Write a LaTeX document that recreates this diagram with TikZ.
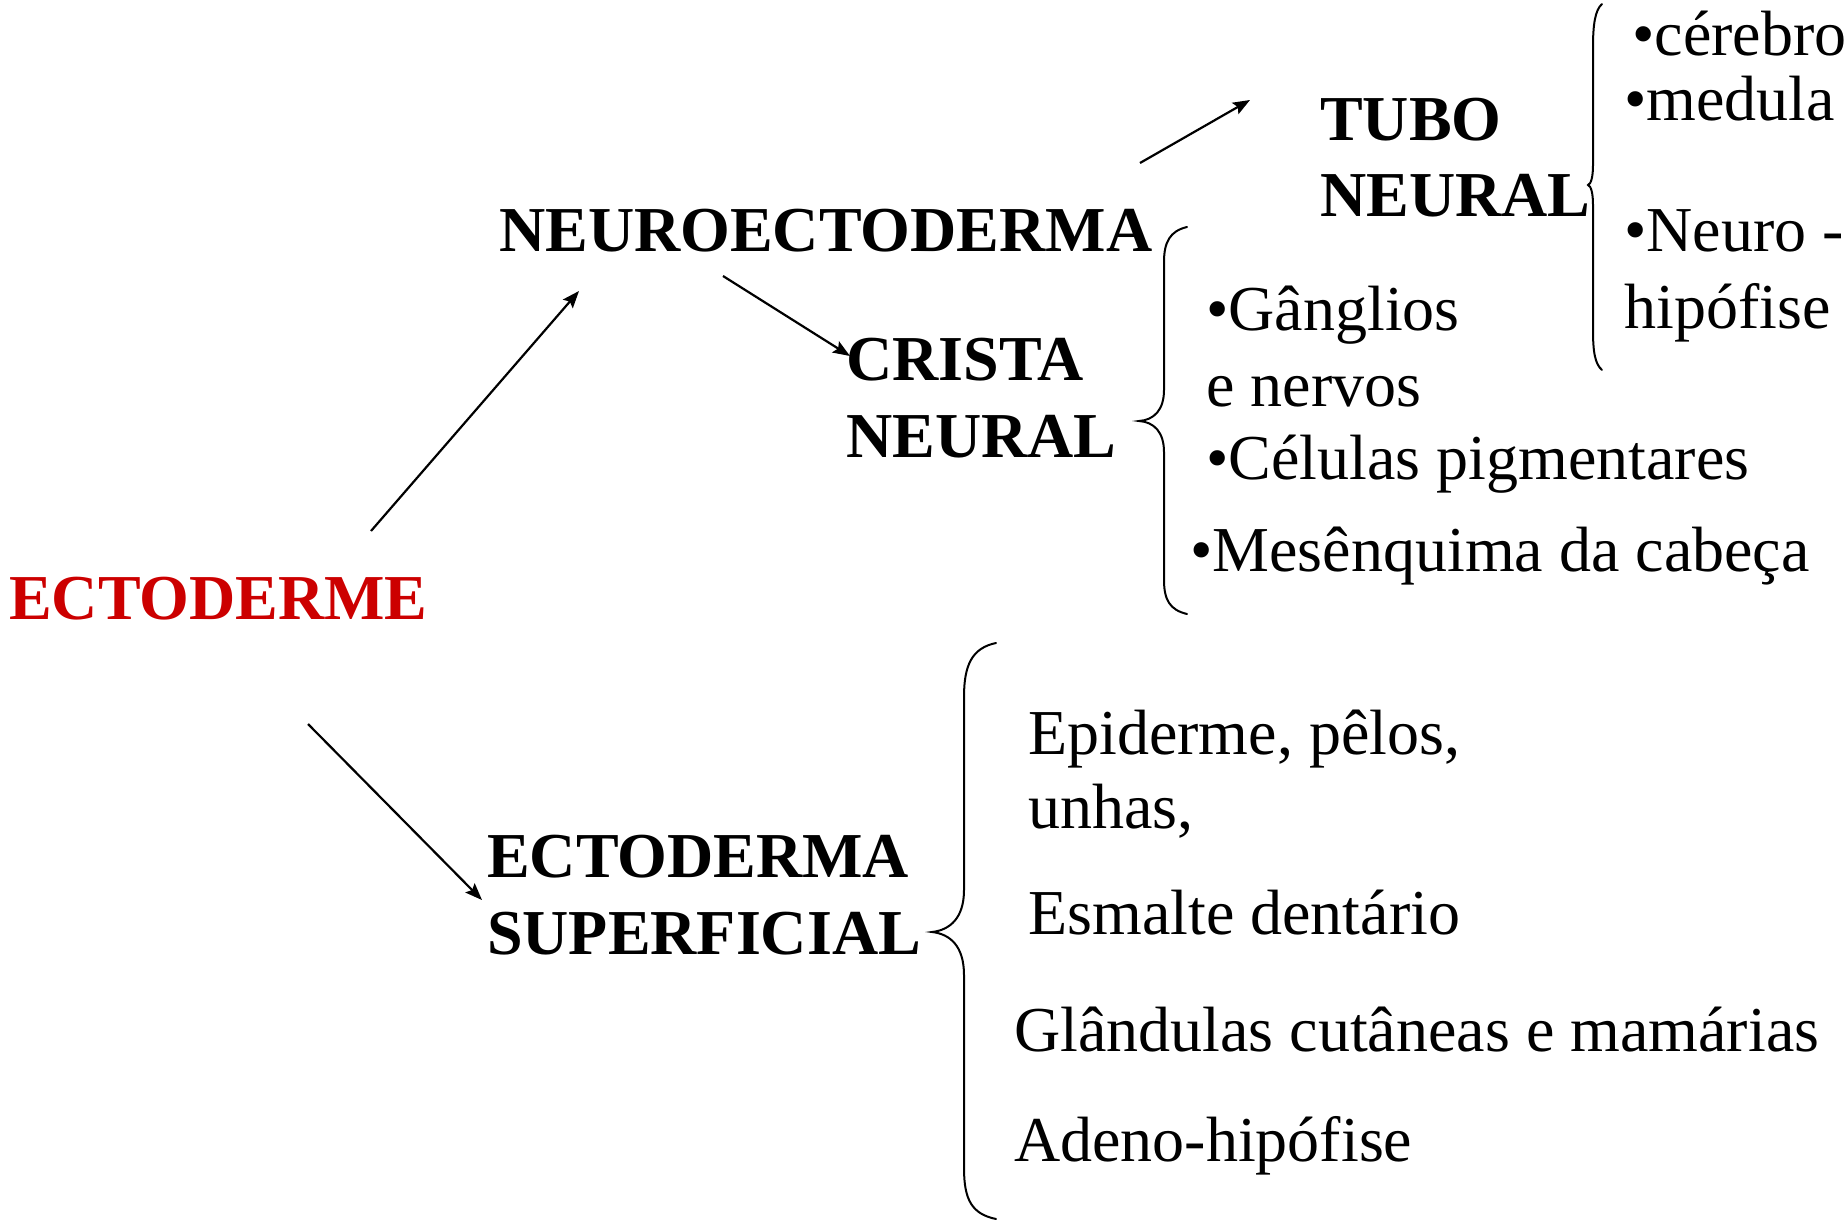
\documentclass[tikz,border=0pt]{standalone}
\usepackage{fontspec}
\setmainfont{Liberation Serif}
\usetikzlibrary{arrows.meta}
\definecolor{ectored}{RGB}{204,0,0}
\begin{document}
\begin{tikzpicture}[x=1pt,y=-1pt,
  lbl/.style={inner sep=0pt, anchor=base west, font=\fontsize{64}{76}\selectfont},
  hd/.style={inner sep=0pt, anchor=base west, font=\fontsize{64}{76}\selectfont\bfseries},
  conn/.style={line width=2.2pt, -{Stealth[length=17pt,width=13pt,inset=3pt]}},
  brc/.style={line width=2pt, line cap=round}]
\useasboundingbox (0,0) rectangle (1848,1223);

% main labels
\node[hd, text=ectored] (ecto) at (9,619) {ECTODERME};
\node[hd] (neuro) at (499,251) {NEUROECTODERMA};
\node[hd] (tubo) at (1320,140) {TUBO};
\node[hd] (tubob) at (1320,216) {NEURAL};
\node[hd] (crista) at (846,380) {CRISTA};
\node[hd] (cristab) at (846,457) {NEURAL};
\node[hd] (sup) at (487,877) {ECTODERMA};
\node[hd] (supb) at (487,954) {SUPERFICIAL};

% tubo neural items
\node[lbl] (cer) at (1632,56) {•cérebro};
\node[lbl] (med) at (1624,121) {•medula};
\node[lbl] (neh) at (1624,251) {•Neuro -};
\node[lbl] (nehb) at (1624,328) {hipófise};

% crista neural items
\node[lbl] (gan) at (1206,330) {•Gânglios};
\node[lbl] (ganb) at (1206,406) {e nervos};
\node[lbl] (cel) at (1206,479) {•Células pigmentares};
\node[lbl] (mes) at (1190,571) {•Mesênquima da cabeça};

% ectoderma superficial items
\node[lbl] (epi) at (1028,754) {Epiderme, pêlos,};
\node[lbl] (epib) at (1028,828) {unhas,};
\node[lbl] (esm) at (1028,934) {Esmalte dentário};
\node[lbl] (gla) at (1014,1051) {Glândulas cutâneas e mamárias};
\node[lbl] (ade) at (1014,1161) {Adeno-hipófise};

% arrow end points
\coordinate (a1s) at (371,531);
\coordinate (a1e) at (579,291);
\coordinate (a2s) at (723,276);
\coordinate (a2e) at (850,356);
\coordinate (a3s) at (1140,163);
\coordinate (a3e) at (1250,100);
\coordinate (a4s) at (308,724);
\coordinate (a4e) at (482,900);

\draw[conn] (a1s) -- (a1e);
\draw[conn] (a2s) -- (a2e);
\draw[conn] (a3s) -- (a3e);
\draw[conn] (a4s) -- (a4e);

% braces
\draw[brc] (1602,4) .. controls (1595,10) and (1593,25) .. (1593,47) -- (1593,165)
  .. controls (1593,177) and (1591,184) .. (1588,185)
  .. controls (1591,186) and (1593,193) .. (1593,205) -- (1593,330)
  .. controls (1593,352) and (1595,364) .. (1602,370);
\draw[brc] (1187,227) .. controls (1170,231) and (1164,242) .. (1164,262) -- (1164,390)
  .. controls (1164,410) and (1154,420) .. (1139,421)
  .. controls (1154,422) and (1164,432) .. (1164,452) -- (1164,580)
  .. controls (1164,600) and (1170,610) .. (1187,614);
\draw[brc] (996,643) .. controls (972,648) and (964,665) .. (964,697) -- (964,890)
  .. controls (964,918) and (950,930) .. (932,932)
  .. controls (950,934) and (964,946) .. (964,975) -- (964,1168)
  .. controls (964,1200) and (972,1214) .. (996,1219);
\end{tikzpicture}
\end{document}
